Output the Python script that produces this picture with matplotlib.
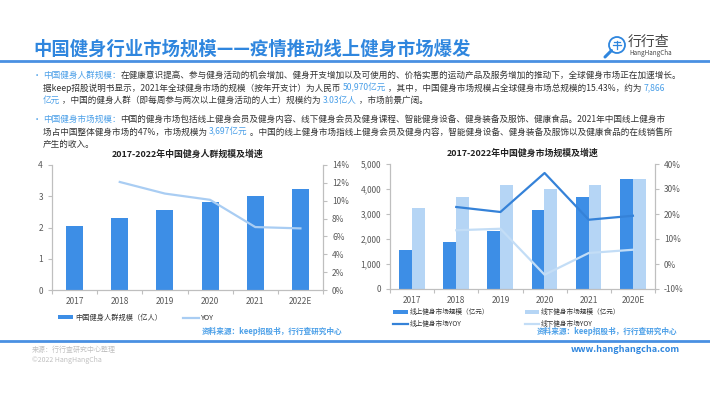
import numpy as np
import matplotlib
matplotlib.use("Agg")
import matplotlib.pyplot as plt
from matplotlib.patches import Circle
from matplotlib.ticker import FuncFormatter

plt.rcParams['font.family'] = ['Noto Sans CJK SC', 'DejaVu Sans']

# ---- data ----
people_years = ['2017', '2018', '2019', '2020', '2021', '2022E']
people = [2.06, 2.30, 2.56, 2.82, 3.02, 3.22]          # 亿人
people_yoy = [np.nan, 12.1, 10.8, 10.1, 7.05, 6.9]     # %

market_years = ['2017', '2018', '2019', '2020', '2021', '2020E']
online = [1560, 1893, 2307, 3147, 3693, 4413]          # 亿元
offline = [3227, 3667, 4173, 3987, 4173, 4387]         # 亿元
online_yoy = [np.nan, 22.8, 20.8, 36.4, 17.7, 19.3]    # %
offline_yoy = [np.nan, 13.5, 14.1, -4.3, 4.4, 5.7]     # %

# colours
BLUE = '#2f86de'
BAR = '#3d8ee6'
BAR_LIGHT = '#b5d5f5'
LINE_LIGHT = '#a9cdf3'
LINE_DARK = '#3582d8'
LINE_PALE = '#c3ddf6'
HL = '#4a9fe8'
TXT = '#333333'
TICK = '#595959'
SPINE = '#bfbfbf'

W, H = 710, 399
fig = plt.figure(figsize=(W / 100, H / 100), dpi=100)
renderer = fig.canvas.get_renderer()


def fx(x):
    return x / W


def fy(y):
    return 1 - y / H


def rich_line(x, y, parts, size=6.2):
    # draw text pieces one after the other, each in its own colour
    for s, c in parts:
        t = fig.text(fx(x), fy(y), s, color=c, fontsize=size, va='center', ha='left')
        x += t.get_window_extent(renderer).width


# ---- header ----
fig.text(fx(33), fy(49), '中国健身行业市场规模——疫情推动线上健身市场爆发',
         fontsize=13.2, fontweight='bold', color=BLUE, va='center')
fig.add_artist(plt.Line2D([0, 1], [fy(61), fy(61)], color='#4a90e2', lw=2))
# logo: magnifier icon + name
lax = fig.add_axes([fx(603), fy(59), 24 / W, 24 / H])
lax.set_xlim(0, 24)
lax.set_ylim(0, 24)
lax.set_aspect('equal')
lax.axis('off')
lax.add_patch(Circle((14, 14), 8, fill=False, ec=BLUE, lw=1.3))
lax.plot([8.5, 2], [8.5, 2], color=BLUE, lw=2.2, solid_capstyle='round')
lax.plot([10, 18], [14, 14], color=BLUE, lw=0.9)
lax.plot([14, 14], [10, 18], color=BLUE, lw=0.9)
lax.plot([11, 17], [17, 17], color=BLUE, lw=0.9)
fig.text(fx(628), fy(42), '行行查', fontsize=10, color='#444444', va='center')
fig.text(fx(629), fy(53), 'HangHangCha', fontsize=4.5, color='#444444', va='center')

# ---- body text ----
fig.text(fx(33), fy(75), '•', fontsize=6, color=HL, va='center')
rich_line(43, 75, [('中国健身人群规模：', HL),
                   ('在健康意识提高、参与健身活动的机会增加、健身开支增加以及可使用的、价格实惠的运动产品及服务增加的推动下，全球健身市场正在加速增长。', TXT)])
rich_line(43, 88, [('据keep招股说明书显示，2021年全球健身市场的规模（按年开支计）为人民币 ', TXT),
                   ('50,970亿元', HL),
                   (' ，其中，中国健身市场规模占全球健身市场总规模的15.43%，约为 ', TXT),
                   ('7,866', HL)])
rich_line(43, 100, [('亿元', HL),
                    (' ，中国的健身人群（即每周参与两次以上健身活动的人士）规模约为 ', TXT),
                    ('3.03亿人', HL),
                    (' ，市场前景广阔。', TXT)])
fig.text(fx(33), fy(119), '•', fontsize=6, color=HL, va='center')
rich_line(43, 119, [('中国健身市场规模：', HL),
                    ('中国的健身市场包括线上健身会员及健身内容、线下健身会员及健身课程、智能健身设备、健身装备及服饰、健康食品。2021年中国线上健身市', TXT)])
rich_line(43, 132, [('场占中国整体健身市场的47%，市场规模为 ', TXT),
                    ('3,697亿元', HL),
                    (' 。中国的线上健身市场指线上健身会员及健身内容，智能健身设备、健身装备及服饰以及健康食品的在线销售所', TXT)])
rich_line(43, 144, [('产生的收入。', TXT)])


def style_axes(ax, ax2, ncat):
    for a in (ax, ax2):
        a.spines['top'].set_visible(False)
        for s in ('left', 'right', 'bottom'):
            a.spines[s].set_color(SPINE)
            a.spines[s].set_linewidth(0.8)
        a.tick_params(axis='y', colors=TICK, labelsize=6, length=3, width=0.8, color=SPINE)
    ax.set_xlim(-0.5, ncat - 0.5)
    ax.set_xticks(np.arange(ncat + 1) - 0.5, minor=False)
    ax.set_xticklabels([])
    ax.tick_params(axis='x', length=3, width=0.8, color=SPINE)
    ax.set_xticks(np.arange(ncat), minor=True)
    ax.tick_params(axis='x', which='minor', length=0, labelsize=6, colors=TICK, pad=5)


# ---- left chart ----
ax1 = fig.add_axes([fx(52), fy(290), (323 - 52) / W, (290 - 165) / H])
x = np.arange(len(people_years))
b1 = ax1.bar(x, people, width=0.38, color=BAR, zorder=2)
ax1.set_ylim(0, 4)
ax1.set_yticks([0, 1, 2, 3, 4])
ax1b = ax1.twinx()
l1, = ax1b.plot(x, people_yoy, color=LINE_LIGHT, lw=1.6)
ax1b.set_ylim(0, 14)
ax1b.set_yticks(np.arange(0, 15, 2))
ax1b.yaxis.set_major_formatter(FuncFormatter(lambda v, p: f'{v:.0f}%'))
style_axes(ax1, ax1b, len(people_years))
ax1.set_xticklabels(people_years, minor=True)
ax1.set_title('2017-2022年中国健身人群规模及增速', fontsize=6.4, fontweight='bold',
              color='#222222', pad=6)

fig.legend([b1, l1], ['中国健身人群规模（亿人）', 'YOY'], loc='center left',
           bbox_to_anchor=(fx(51), fy(318)), ncol=2, frameon=False, fontsize=5.2,
           handlelength=2.2, handleheight=0.5, handletextpad=0.3, columnspacing=2.8,
           labelcolor=TXT)
fig.text(fx(342), fy(331), '资料来源：keep招股书，行行查研究中心', fontsize=5.5,
         color=HL, ha='right', va='center', fontweight='bold')

# ---- right chart ----
ax2 = fig.add_axes([fx(390), fy(289), (655 - 390) / W, (289 - 164) / H])
x = np.arange(len(market_years))
b2 = ax2.bar(x - 0.15, online, width=0.29, color=BAR, zorder=2)
b3 = ax2.bar(x + 0.14, offline, width=0.29, color=BAR_LIGHT, zorder=2)
ax2.set_ylim(0, 5000)
ax2.set_yticks(np.arange(0, 5001, 1000))
ax2.yaxis.set_major_formatter(FuncFormatter(lambda v, p: f'{v:,.0f}'))
ax2b = ax2.twinx()
l2, = ax2b.plot(x, online_yoy, color=LINE_DARK, lw=1.6)
l3, = ax2b.plot(x, offline_yoy, color=LINE_PALE, lw=1.6)
ax2b.set_ylim(-10, 40)
ax2b.set_yticks(np.arange(-10, 41, 10))
ax2b.yaxis.set_major_formatter(FuncFormatter(lambda v, p: f'{v:.0f}%'))
style_axes(ax2, ax2b, len(market_years))
ax2.set_xticklabels(market_years, minor=True)
ax2.set_title('2017-2022年中国健身市场规模及增速', fontsize=6.4, fontweight='bold',
              color='#222222', pad=6)

# ncol=2 fills column-wise: order gives row1 = bars, row2 = lines
fig.legend([b2, l2, b3, l3],
           ['线上健身市场规模（亿元）', '线上健身市场YOY', '线下健身市场规模（亿元）', '线下健身市场YOY'],
           loc='center left', bbox_to_anchor=(fx(387), fy(318)), ncol=2, frameon=False,
           fontsize=4.8, handlelength=2.2, handleheight=0.5, handletextpad=0.3,
           columnspacing=5.3, labelspacing=0.5, labelcolor=TXT)
fig.text(fx(677), fy(331), '资料来源：keep招股书，行行查研究中心', fontsize=5.5,
         color=HL, ha='right', va='center', fontweight='bold')

# ---- footer ----
fig.add_artist(plt.Line2D([0, 1], [fy(341), fy(341)], color='#4a90e2', lw=2))
fig.text(fx(32), fy(350), '来源：行行查研究中心整理', fontsize=5, color='#c0c0c0', va='center')
fig.text(fx(32), fy(360), '©2022 HangHangCha', fontsize=5, color='#c0c0c0', va='center')
fig.text(fx(680), fy(350), 'www.hanghangcha.com', fontsize=6.5, color=BLUE,
         fontweight='bold', ha='right', va='center')

fig.savefig('out.png', dpi=100)
